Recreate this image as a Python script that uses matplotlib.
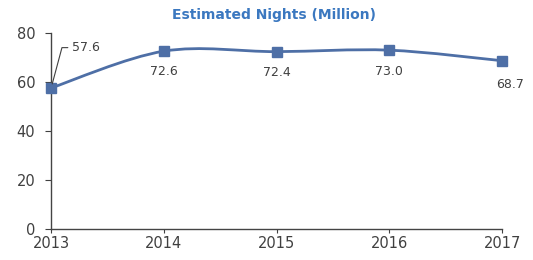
import numpy as np
import matplotlib.pyplot as plt
from matplotlib.path import Path
from matplotlib.patches import PathPatch

plt.rcParams['font.family'] = ['DejaVu Sans']

years = [2013, 2014, 2015, 2016, 2017]
nights = [57.6, 72.6, 72.4, 73.0, 68.7]
labels = ['57.6', '72.6', '72.4', '73.0', '68.7']

line_color = '#4e6fa6'
title_color = '#3b78c0'
text_color = '#404040'

fig = plt.figure(figsize=(5.33, 2.6), dpi=100)
ax = fig.add_axes([0.096, 0.119, 0.846, 0.754])

# smoothed line (Catmull-Rom -> Bezier), like Excel's smooth line
x = np.array(years, dtype=float)
y = np.array(nights, dtype=float)
verts = [(x[0], y[0])]
codes = [Path.MOVETO]
for i in range(len(x) - 1):
    p0 = (x[i - 1], y[i - 1]) if i > 0 else (x[i], y[i])
    p3 = (x[i + 2], y[i + 2]) if i + 2 < len(x) else (x[i + 1], y[i + 1])
    c1 = (x[i] + (x[i + 1] - p0[0]) / 6, y[i] + (y[i + 1] - p0[1]) / 6)
    c2 = (x[i + 1] - (p3[0] - x[i]) / 6, y[i + 1] - (p3[1] - y[i]) / 6)
    verts += [c1, c2, (x[i + 1], y[i + 1])]
    codes += [Path.CURVE4] * 3
ax.add_patch(PathPatch(Path(verts, codes), facecolor='none',
                       edgecolor=line_color, lw=2, clip_on=False))
ax.plot(years, nights, linestyle='none', marker='s', markersize=6.5,
        color=line_color, clip_on=False, zorder=3)

# data labels
ax.annotate(labels[0], xy=(years[0], nights[0]), xytext=(15, 29),
            textcoords='offset points', fontsize=9, color=text_color,
            va='center', ha='left',
            arrowprops=dict(arrowstyle='-', color=text_color, lw=0.8,
                            connectionstyle='angle,angleA=0,angleB=75,rad=0',
                            shrinkA=1, shrinkB=3))
for xi, yi, lab in zip(years[1:4], nights[1:4], labels[1:4]):
    ax.annotate(lab, xy=(xi, yi), xytext=(0, -15), textcoords='offset points',
                fontsize=9, color=text_color, ha='center', va='center')
ax.annotate(labels[4], xy=(years[4], nights[4]), xytext=(6, -17),
            textcoords='offset points', fontsize=9, color=text_color,
            ha='center', va='center')

ax.set_xlim(2013, 2017)
ax.set_ylim(0, 80)
ax.set_yticks([0, 20, 40, 60, 80])
ax.set_xticks(years)
ax.tick_params(axis='both', labelsize=10.5, colors=text_color, width=0.8)
ax.tick_params(axis='y', length=4.5, pad=7)
ax.tick_params(axis='x', length=3, pad=2)
for s in ['top', 'right']:
    ax.spines[s].set_visible(False)
for s in ['left', 'bottom']:
    ax.spines[s].set_color('#444444')
    ax.spines[s].set_linewidth(1)

fig.text(0.514, 0.942, 'Estimated Nights (Million)', ha='center', va='center',
         fontsize=10, fontweight='bold', color=title_color)

fig.savefig('out.png', dpi=100)
